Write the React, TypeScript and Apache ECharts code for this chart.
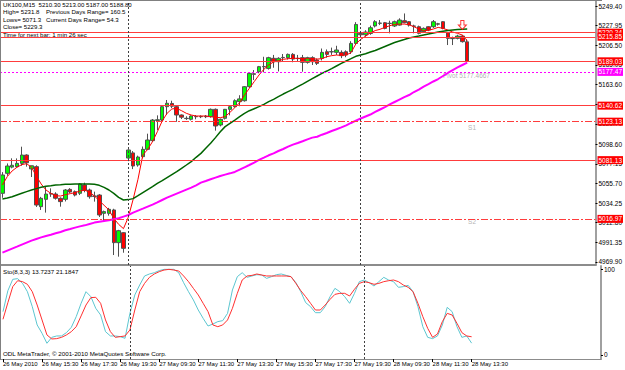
import React, { useEffect, useRef } from "react";
import * as echarts from "echarts";

// ---- candles (26 May 13:30 .. 28 May 13:30, M15) ----
const opens = [
  5044.9, 5066.7, 5073.5, 5074.0, 5077.6, 5086.7, 5071.5, 5074.0, 5030.3, 5038.3,
  5044.1, 5044.1, 5039.4, 5038.3, 5049.2, 5046.7, 5044.9, 5054.0, 5048.5, 5042.0,
  5043.0, 5023.0, 5023.0, 5026.7, 4991.0, 5001.9,
  5083.4, 5089.0, 5075.8, 5084.9, 5092.9, 5102.4, 5124.5, 5124.9, 5139.5, 5143.0,
  5139.5, 5130.4, 5126.8, 5125.7, 5128.5, 5128.8, 5128.5, 5128.6, 5136.6, 5119.5,
  5126.8, 5136.6, 5139.5, 5145.0, 5146.0, 5161.3, 5175.5, 5177.7, 5183.0, 5181.3,
  5192.3, 5188.6, 5193.0, 5193.0, 5196.6, 5192.0, 5193.0, 5187.9, 5193.0, 5190.5,
  5192.3, 5199.5, 5199.3, 5198.8, 5198.8, 5199.5, 5199.5, 5208.6,
  5219.5, 5218.0, 5219.5, 5227.6, 5230.5, 5231.2, 5230.3, 5227.6, 5228.6, 5233.4,
  5232.3, 5227.6, 5226.8, 5221.4, 5226.8, 5226.8, 5230.0, 5232.3, 5220.3, 5214.1,
  5214.1, 5216.6, 5210.3,
];
const highs = [
  5068.0, 5077.5, 5083.1, 5083.0, 5095.8, 5087.5, 5075.0, 5075.5, 5041.0, 5052.2,
  5050.3, 5046.0, 5040.5, 5049.5, 5050.5, 5048.0, 5056.0, 5056.5, 5050.0, 5046.7,
  5044.0, 5026.0, 5029.0, 5028.0, 5005.0, 5002.5,
  5093.0, 5091.0, 5086.0, 5096.0, 5110.0, 5126.0, 5130.0, 5141.0, 5146.8, 5146.0,
  5141.0, 5131.0, 5129.0, 5130.0, 5130.4, 5130.0, 5130.4, 5137.5, 5137.5, 5126.5,
  5137.0, 5140.5, 5147.5, 5152.0, 5162.0, 5176.5, 5179.5, 5184.0, 5194.0, 5194.0,
  5196.0, 5193.5, 5197.0, 5197.5, 5198.0, 5196.0, 5196.0, 5194.0, 5194.5, 5192.0,
  5203.0, 5202.0, 5204.0, 5206.0, 5201.0, 5201.0, 5211.0, 5231.8,
  5222.0, 5223.0, 5228.0, 5234.0, 5234.1, 5232.0, 5233.4, 5233.5, 5236.0, 5241.3,
  5233.0, 5229.0, 5228.0, 5226.0, 5227.5, 5234.1, 5231.0, 5233.0, 5221.0, 5216.0,
  5218.0, 5218.0, 5213.0,
];
const lows = [
  5040.0, 5064.0, 5072.2, 5073.0, 5075.0, 5074.0, 5062.7, 5030.0, 5026.7, 5023.8,
  5041.0, 5038.0, 5030.3, 5036.0, 5045.0, 5041.5, 5043.0, 5046.0, 5039.0, 5035.8,
  5019.0, 5013.9, 5020.5, 4977.5, 4975.7, 4980.0,
  5080.0, 5071.3, 5074.0, 5083.0, 5092.0, 5101.0, 5114.0, 5123.0, 5130.4, 5138.0,
  5123.0, 5126.0, 5125.0, 5124.5, 5125.7, 5127.0, 5127.0, 5127.5, 5113.3, 5118.0,
  5125.5, 5130.0, 5138.5, 5140.0, 5145.0, 5160.0, 5168.6, 5176.0, 5177.0, 5180.0,
  5182.0, 5178.0, 5189.0, 5191.0, 5188.0, 5188.5, 5177.7, 5186.5, 5185.0, 5185.0,
  5190.0, 5193.0, 5196.0, 5196.0, 5192.5, 5193.5, 5197.0, 5207.0,
  5215.0, 5216.0, 5218.0, 5226.0, 5228.6, 5224.0, 5219.6, 5226.5, 5228.0, 5230.5,
  5227.0, 5219.6, 5218.5, 5220.0, 5222.0, 5225.5, 5228.0, 5224.0, 5206.8, 5206.8,
  5213.0, 5209.5, 5187.0,
];
const closes = [
  5064.9, 5074.7, 5075.5, 5077.6, 5086.7, 5078.3, 5075.0, 5032.1, 5039.4, 5044.1,
  5044.6, 5039.5, 5035.8, 5048.5, 5046.3, 5043.0, 5055.1, 5048.0, 5041.2, 5041.5,
  5021.2, 5024.9, 5027.4, 4991.0, 5004.1, 4984.8,
  5092.2, 5074.7, 5084.5, 5092.9, 5103.1, 5124.9, 5125.2, 5139.5, 5143.2, 5140.0,
  5130.4, 5128.0, 5126.5, 5129.3, 5128.8, 5128.5, 5129.0, 5136.6, 5118.4, 5125.7,
  5136.6, 5139.5, 5146.0, 5148.0, 5161.3, 5175.9, 5174.8, 5183.2, 5183.4, 5193.0,
  5188.6, 5192.3, 5193.3, 5196.6, 5191.5, 5192.3, 5187.9, 5193.0, 5188.6, 5186.8,
  5198.8, 5196.6, 5199.6, 5201.4, 5195.2, 5195.9, 5208.6, 5229.3,
  5218.0, 5221.0, 5225.7, 5232.3, 5230.8, 5225.0, 5230.6, 5232.3, 5234.1, 5231.2,
  5228.6, 5227.3, 5219.6, 5225.0, 5223.2, 5232.3, 5229.6, 5225.0, 5214.1, 5213.8,
  5216.6, 5210.5, 5188.8,
];

// ---- moving averages ----
const fastMA = [
  5054.0, 5063.1, 5069.3, 5073.3, 5076.2, 5077.3, 5073.3, 5063.8, 5055.1, 5048.5,
  5044.9, 5042.3, 5041.9, 5043.4, 5044.5, 5045.6, 5047.4, 5048.2, 5046.3, 5041.9,
  5036.9, 5031.8, 5026.7, 5017.6, 5011.0, 5006.3,
  5018.7, 5038.3, 5060.2, 5086.7, 5092.9, 5101.3, 5112.2, 5123.9, 5132.2, 5137.0,
  5137.7, 5135.1, 5132.2, 5130.4, 5129.3, 5129.3, 5129.3, 5128.6, 5127.9, 5127.5,
  5128.6, 5133.3, 5138.4, 5143.9, 5152.2, 5159.5, 5166.8, 5174.1, 5180.3, 5185.0,
  5188.3, 5189.7, 5191.2, 5191.9, 5192.3, 5192.3, 5191.9, 5191.9, 5191.9, 5191.5,
  5191.9, 5194.1, 5195.2, 5195.9, 5195.5, 5195.9, 5198.5, 5208.0,
  5213.0, 5216.5, 5220.0, 5222.6, 5224.0, 5226.1, 5227.9, 5229.4, 5229.7, 5229.7,
  5229.0, 5226.8, 5224.3, 5222.4, 5222.9, 5224.3, 5226.1, 5225.0, 5223.2, 5221.0,
  5219.6, 5217.7, 5211.5,
];
const midMA = [
  5038.7, 5039.8, 5041.2, 5043.1, 5044.9, 5046.7, 5048.5, 5050.0, 5051.4, 5052.5,
  5053.2, 5054.0, 5054.3, 5054.7, 5054.7, 5055.1, 5055.1, 5055.1, 5055.1, 5054.7,
  5053.6, 5051.4, 5048.5, 5044.9, 5040.5, 5037.6,
  5038.0, 5039.1, 5042.3, 5045.6, 5048.9, 5052.2, 5055.8, 5058.7, 5062.0, 5065.3,
  5068.5, 5072.2, 5075.8, 5079.5, 5084.2, 5088.5, 5094.0, 5099.5, 5105.7, 5112.2,
  5117.7, 5121.3, 5124.9, 5128.6, 5132.2, 5135.1, 5137.3, 5139.5, 5142.0, 5145.0,
  5147.5, 5150.4, 5153.3, 5155.9, 5158.4, 5161.3, 5164.2, 5167.2, 5170.1, 5173.0,
  5175.9, 5178.4, 5181.0, 5183.9, 5186.8, 5189.4, 5191.9, 5194.5,
  5195.9, 5197.3, 5199.2, 5200.8, 5203.0, 5205.2, 5207.4, 5209.6, 5211.2, 5212.8,
  5214.5, 5215.6, 5216.6, 5217.7, 5218.8, 5219.9, 5221.0, 5221.8, 5222.6, 5223.2,
  5223.7, 5224.0, 5224.3,
];
const slowMA = [
  4980.1, 4982.3, 4984.5, 4986.6, 4988.8, 4991.0, 4993.2, 4995.0, 4996.8, 4998.3,
  4999.7, 5001.2, 5002.7, 5004.5, 5005.9, 5007.4, 5008.8, 5009.9, 5011.4, 5012.9,
  5013.9, 5014.7, 5015.4, 5016.5, 5017.6, 5019.4,
  5021.2, 5023.8, 5026.0, 5028.1, 5030.3, 5032.5, 5035.0, 5037.6, 5040.1, 5042.3,
  5044.5, 5046.7, 5048.9, 5051.1, 5053.6, 5056.5, 5058.3, 5060.2, 5062.0, 5063.8,
  5065.3, 5066.7, 5068.2, 5070.7, 5073.3, 5075.8, 5078.4, 5081.3, 5083.8, 5086.4,
  5088.5, 5091.1, 5093.3, 5095.8, 5098.0, 5099.8, 5101.7, 5103.8, 5105.7, 5106.7,
  5108.9, 5110.7, 5112.9, 5114.8, 5116.9, 5119.1, 5121.7, 5124.2,
  5126.6, 5128.8, 5130.9, 5133.7, 5136.4, 5139.1, 5141.9, 5144.6, 5147.3, 5150.0,
  5152.2, 5155.5, 5158.2, 5161.5, 5164.2, 5167.0, 5169.7, 5173.0, 5176.3, 5179.5,
  5182.3, 5185.0, 5187.7,
];

// ---- stochastic (8,3,3) ----
const stochMain = [
  50.4, 74.8, 88.0, 88.8, 83.3, 73.6, 56.2, 34.9, 25.2, 13.6,
  20.5, 22.1, 22.1, 26.0, 32.2, 44.6, 60.1, 73.6, 67.8, 54.3,
  46.5, 27.1, 22.1, 22.1, 21.3, 19.4,
  48.4, 69.8, 81.4, 91.9, 94.2, 95.7, 98.1, 99.6, 99.6, 99.6,
  95.7, 84.1, 73.6, 64.0, 52.3, 42.6, 33.7, 36.0, 38.8, 39.9,
  48.4, 75.6, 91.1, 95.7, 90.3, 91.9, 93.4, 93.0, 89.1, 91.1,
  93.4, 94.2, 92.6, 91.1, 84.1, 73.6, 60.9, 56.2, 49.2, 49.2,
  56.2, 67.8, 77.5, 73.6, 67.8, 60.1, 71.7, 85.3,
  87.2, 84.1, 80.2, 85.3, 90.3, 87.2, 85.3, 78.7, 79.5, 81.0,
  73.6, 56.2, 32.9, 20.5, 19.0, 22.1, 34.9, 55.4, 50.4, 32.9,
  20.5, 22.1, 13.7237,
];
const stochSignal = [
  41.5, 60.9, 79.5, 86.4, 85.3, 82.2, 73.6, 58.1, 40.7, 23.3,
  18.6, 19.0, 20.5, 23.3, 27.1, 32.9, 45.4, 58.1, 66.7, 67.1,
  60.1, 40.7, 27.1, 20.5, 21.3, 22.1,
  29.1, 52.3, 73.6, 83.3, 90.3, 94.2, 96.9, 98.8, 99.6, 98.8,
  97.7, 91.9, 85.3, 77.5, 69.8, 60.1, 50.4, 34.9, 32.9, 34.9,
  40.7, 54.3, 71.7, 87.2, 91.9, 92.6, 94.2, 93.0, 91.9, 91.9,
  91.9, 91.9, 91.9, 91.1, 83.3, 74.8, 67.8, 60.1, 52.3, 52.3,
  58.1, 64.7, 70.5, 71.7, 71.7, 68.6, 76.4, 83.3,
  85.3, 84.1, 82.2, 83.3, 85.3, 86.4, 87.2, 85.3, 81.4, 78.7,
  73.6, 60.1, 44.6, 31.0, 20.5, 24.4, 38.8, 48.4, 46.5, 36.8,
  26.0, 22.1, 21.1847,
];

// ---- axes ----
const priceTicks = [
  5249.4, 5227.95, 5206.5, 5185.05, 5163.6, 5142.15, 5120.7, 5098.6, 5077.15,
  5055.7, 5034.25, 5012.8, 4991.35, 4969.9,
];
const stochTicks = [0, 100];
const sessionDays = ["26 May", "27 May", "28 May"];
const sessionStarts = ["13:30", "08:00", "08:00"];
const sessionBars = [26, 48, 23];
const firstLabel = "26 May 2010";
const emptySlots = 26;

// ---- horizontal levels & annotations ----
const levelValues = [5220.34, 5215.85, 5189.03, 5177.47, 5140.62, 5123.13, 5081.13, 5016.97];
const levelKinds = ["solid", "solid", "solid", "pivot", "solid", "dashdot", "solid", "dashdot"];
const daySeparators = [26, 74];
const noteIdx = [91, 97, 97];
const notePrice = [5173.0, 5117.3, 5013.6];
const noteText = ["Pivot 5177.4667", "S1", "S2"];
const arrowIdx = 95;
const arrowPrice = 5228.7;

const headerLines = [
  "UK100,M15  5210.30 5213.00 5187.00 5188.80",
  "High= 5231.8",
  "Lows= 5071.3",
  "Close= 5229.3",
  "Time for next bar: 1 min 26 sec",
];
const headerRight = ["", "Previous Days Range= 160.5", "Current Days Range= 54.3", "", ""];

function buildCategories(): string[] {
  const out: string[] = [];
  sessionDays.forEach((d, k) => {
    const [h, m] = sessionStarts[k].split(":").map(Number);
    let t = h * 60 + m;
    for (let i = 0; i < sessionBars[k]; i++) {
      const hh = String(Math.floor(t / 60)).padStart(2, "0");
      const mm = String(t % 60).padStart(2, "0");
      out.push(`${d} ${hh}:${mm}`);
      t += 15;
    }
  });
  for (let i = 0; i < emptySlots; i++) out.push(`f${i}`);
  return out;
}

export default function App() {
  const ref = useRef<HTMLDivElement>(null);
  useEffect(() => {
    if (!ref.current) return;
    const chart = echarts.init(ref.current, null, { renderer: "svg" });
    const categories = buildCategories();
    const nBars = opens.length;
    const labelInterval = (index: number) => index % 8 === 0 && index < nBars;
    const FONT = "Liberation Sans, Arial, sans-serif";
    const RED = "#ff3c3c";
    const MAG = "#ff00ff";
    const HF = 6.1;

    const levelData = levelValues.map((v, i) => {
      const kind = levelKinds[i];
      const isPivot = kind === "pivot";
      return {
        yAxis: v,
        lineStyle: {
          color: isPivot ? MAG : RED,
          width: 1,
          type: isPivot ? [2, 2] : kind === "dashdot" ? [7, 2, 2, 2] : "solid",
        },
        label: {
          show: true,
          position: "end",
          distance: 2,
          formatter: v.toFixed(2),
          backgroundColor: isPivot ? MAG : "#ff0000",
          color: "#ffffff",
          fontSize: 6.5,
          fontFamily: FONT,
          padding: [1, 1, 0, 1],
        },
      };
    });

    const sepLines = () => ({
      silent: true,
      symbol: ["none", "none"],
      label: { show: false },
      lineStyle: { color: "#404040", type: [2, 2], width: 1 },
      data: daySeparators.map((x) => ({ xAxis: x })),
    });

    const graphic: any[] = [];
    headerLines.forEach((t, i) => {
      graphic.push({
        type: "text",
        left: 3,
        top: 1 + i * 7.5,
        z: 100,
        style: { text: t, fontSize: HF, fontFamily: FONT, fill: "#000" },
      });
      if (headerRight[i]) {
        graphic.push({
          type: "text",
          left: 46,
          top: 1 + i * 7.5,
          z: 100,
          style: { text: headerRight[i], fontSize: HF, fontFamily: FONT, fill: "#000" },
        });
      }
    });
    graphic.push({
      type: "text",
      left: 3,
      top: 268,
      z: 100,
      style: { text: "Sto(8,3,3) 13.7237 21.1847", fontSize: 6.2, fontFamily: FONT, fill: "#000" },
    });
    graphic.push({
      type: "text",
      left: 3,
      top: 350,
      z: 100,
      style: {
        text: "ODL MetaTrader, © 2001-2010 MetaQuotes Software Corp.",
        fontSize: 6.2,
        fontFamily: FONT,
        fill: "#000",
      },
    });
    graphic.push({
      type: "line",
      z: 100,
      shape: { x1: 0.5, y1: 0, x2: 0.5, y2: 360 },
      style: { stroke: "#808080", lineWidth: 1 },
    });
    graphic.push({
      type: "line",
      z: 100,
      shape: { x1: 0, y1: 0.5, x2: 602, y2: 0.5 },
      style: { stroke: "#808080", lineWidth: 1 },
    });

    const option: any = {
      animation: false,
      backgroundColor: "#ffffff",
      textStyle: { fontFamily: FONT },
      grid: [
        { left: 0, right: 24, top: 1, height: 264 },
        { left: 0, right: 24, top: 266, height: 93 },
      ],
      xAxis: [
        {
          type: "category",
          gridIndex: 0,
          data: categories,
          axisLine: { show: true, onZero: false, lineStyle: { color: "#8c8c8c", width: 2 } },
          axisTick: { show: false },
          axisLabel: { show: false },
          splitLine: { show: false },
        },
        {
          type: "category",
          gridIndex: 1,
          data: categories,
          axisLine: { show: true, onZero: false, lineStyle: { color: "#8c8c8c", width: 1 } },
          axisTick: {
            show: true,
            interval: labelInterval,
            alignWithLabel: true,
            length: 3,
            lineStyle: { color: "#000" },
          },
          axisLabel: {
            show: true,
            interval: labelInterval,
            align: "left",
            fontSize: 6,
            color: "#000",
            margin: 2,
            formatter: (v: string, i: number) => (i === 0 ? firstLabel : v),
          },
          splitLine: { show: false },
        },
      ],
      yAxis: [
        {
          type: "value",
          gridIndex: 0,
          position: "right",
          min: 4966.6,
          max: 5254.9,
          splitLine: { show: false },
          axisLine: { show: true, lineStyle: { color: "#a0a0a0", width: 2 } },
          axisTick: { show: true, customValues: priceTicks, length: 2, lineStyle: { color: "#000" } },
          axisLabel: {
            customValues: priceTicks,
            formatter: (v: number) => v.toFixed(2),
            fontSize: 6.5,
            color: "#000",
            margin: 3,
          },
        },
        {
          type: "value",
          gridIndex: 1,
          position: "right",
          min: -4.7,
          max: 103.5,
          splitLine: { show: false },
          axisLine: { show: true, lineStyle: { color: "#a0a0a0", width: 2 } },
          axisTick: { show: true, customValues: stochTicks, length: 2, lineStyle: { color: "#000" } },
          axisLabel: {
            customValues: stochTicks,
            formatter: (v: number) => String(Math.round(v)),
            fontSize: 6.5,
            color: "#000",
            margin: 3,
          },
        },
      ],
      graphic,
      series: [
        {
          type: "candlestick",
          xAxisIndex: 0,
          yAxisIndex: 0,
          barWidth: 4,
          data: opens.map((o, i) => [o, closes[i], lows[i], highs[i]]),
          itemStyle: {
            color: "#00ff00",
            color0: "#ff0000",
            borderColor: "#505050",
            borderColor0: "#505050",
            borderWidth: 1,
          },
          markLine: {
            silent: true,
            symbol: ["none", "none"],
            z: 5,
            data: levelData,
          },
        },
        {
          type: "line",
          xAxisIndex: 0,
          yAxisIndex: 0,
          data: fastMA,
          symbol: "none",
          lineStyle: { color: "#ff0000", width: 1 },
          markLine: sepLines(),
        },
        {
          type: "line",
          xAxisIndex: 0,
          yAxisIndex: 0,
          data: midMA,
          symbol: "none",
          lineStyle: { color: "#006400", width: 1.5 },
        },
        {
          type: "line",
          xAxisIndex: 0,
          yAxisIndex: 0,
          data: slowMA,
          symbol: "none",
          lineStyle: { color: "#ff00ff", width: 2 },
        },
        {
          type: "scatter",
          xAxisIndex: 0,
          yAxisIndex: 0,
          symbolSize: 0,
          silent: true,
          data: noteIdx.map((x, i) => ({
            value: [x, notePrice[i]],
            label: {
              show: true,
              position: "inside",
              formatter: noteText[i],
              align: i === 0 ? "left" : "center",
              verticalAlign: "middle",
              color: "#a0a0a0",
              fontSize: 6.5,
              fontFamily: FONT,
            },
          })),
        },
        {
          type: "scatter",
          xAxisIndex: 0,
          yAxisIndex: 0,
          silent: true,
          z: 6,
          symbol: "path://M3,0 L7,0 L7,5 L10,5 L5,10 L0,5 L3,5 Z",
          symbolSize: [8, 9],
          itemStyle: { color: "#ffffff", borderColor: "#ff0000", borderWidth: 1 },
          data: [[arrowIdx, arrowPrice]],
        },
        {
          type: "line",
          xAxisIndex: 1,
          yAxisIndex: 1,
          data: stochMain,
          symbol: "none",
          lineStyle: { color: "#5cc6d0", width: 1 },
          markLine: sepLines(),
        },
        {
          type: "line",
          xAxisIndex: 1,
          yAxisIndex: 1,
          data: stochSignal,
          symbol: "none",
          lineStyle: { color: "#ff3030", width: 1 },
        },
      ],
    };
    chart.setOption(option);
    return () => chart.dispose();
  }, []);
  return <div ref={ref} style={{ width: 625, height: 370, position: "absolute", left: 0, top: 0 }} />;
}
